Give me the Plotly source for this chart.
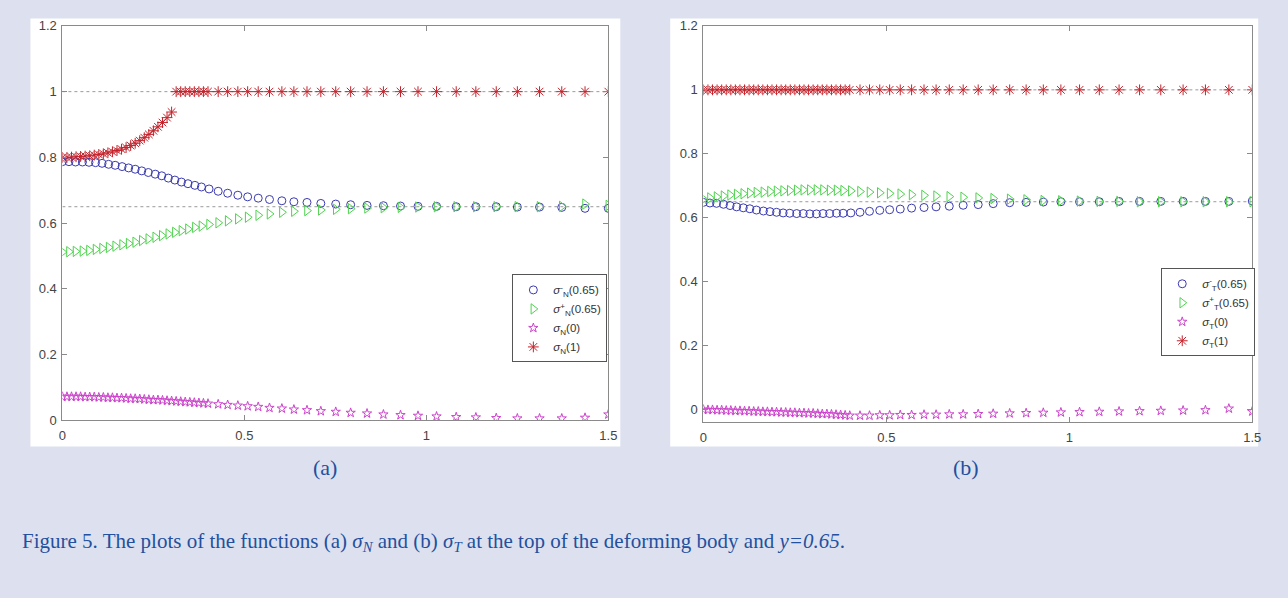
import plotly.graph_objects as go

# ---------------- data ----------------
x_coarse = [0, 0.018, 0.036, 0.055, 0.073, 0.091, 0.109, 0.127, 0.145, 0.164, 0.182, 0.2,
            0.218, 0.236, 0.255, 0.273, 0.291, 0.309, 0.327, 0.345, 0.364, 0.382, 0.403,
            0.428, 0.454, 0.482, 0.509, 0.538, 0.569, 0.603, 0.636, 0.672, 0.710, 0.751,
            0.792, 0.837, 0.882, 0.929, 0.977, 1.028, 1.082, 1.136, 1.192, 1.250, 1.311,
            1.372, 1.436, 1.5]
x_fine = [0, 0.0125, 0.025, 0.0375, 0.05, 0.0625, 0.075, 0.0875, 0.1, 0.1125, 0.125, 0.1375,
          0.15, 0.1625, 0.175, 0.1875, 0.2, 0.2125, 0.225, 0.2375, 0.25, 0.2625, 0.275, 0.2875,
          0.3, 0.3125, 0.325, 0.3375, 0.35, 0.3625, 0.375, 0.3875, 0.4, 0.428, 0.454, 0.482,
          0.509, 0.538, 0.569, 0.603, 0.636, 0.672, 0.710, 0.751, 0.792, 0.837, 0.882, 0.929,
          0.977, 1.028, 1.082, 1.136, 1.192, 1.250, 1.311, 1.372, 1.436, 1.5]

# panel (a): sigma_N
sN_minus = [0.787, 0.787, 0.786, 0.786, 0.785, 0.784, 0.782, 0.779, 0.776, 0.772, 0.768, 0.764,
            0.759, 0.754, 0.749, 0.744, 0.737, 0.731, 0.725, 0.720, 0.715, 0.710, 0.704,
            0.697, 0.691, 0.685, 0.680, 0.676, 0.672, 0.668, 0.665, 0.663, 0.660, 0.658,
            0.656, 0.654, 0.653, 0.652, 0.651, 0.651, 0.650, 0.650, 0.650, 0.649, 0.649,
            0.648, 0.645, 0.645]
sN_plus = [0.512, 0.513, 0.514, 0.515, 0.517, 0.520, 0.523, 0.526, 0.530, 0.534, 0.538, 0.542,
           0.547, 0.552, 0.557, 0.562, 0.567, 0.572, 0.577, 0.582, 0.587, 0.591, 0.596,
           0.601, 0.607, 0.613, 0.618, 0.624, 0.628, 0.633, 0.636, 0.638, 0.640, 0.642,
           0.644, 0.646, 0.647, 0.648, 0.649, 0.650, 0.650, 0.650, 0.650, 0.650, 0.650,
           0.651, 0.658, 0.654]
sN_0 = [0.072, 0.072, 0.072, 0.072, 0.072, 0.071, 0.071, 0.071, 0.070, 0.070, 0.069, 0.069,
        0.068, 0.068, 0.067, 0.066, 0.066, 0.065, 0.064, 0.063, 0.062, 0.062, 0.061, 0.060,
        0.059, 0.058, 0.057, 0.056, 0.055, 0.054, 0.053, 0.052, 0.051, 0.049, 0.047, 0.045,
        0.043, 0.041, 0.038, 0.036, 0.033, 0.031, 0.028, 0.026, 0.023, 0.021, 0.018, 0.016,
        0.014, 0.012, 0.010, 0.009, 0.007, 0.006, 0.006, 0.006, 0.008, 0.018]
sN_1 = [0.800, 0.800, 0.801, 0.802, 0.803, 0.804, 0.805, 0.807, 0.809, 0.811, 0.814, 0.817,
        0.821, 0.825, 0.830, 0.836, 0.843, 0.851, 0.860, 0.870, 0.881, 0.893, 0.906, 0.921,
        0.938, 1, 1, 1, 1, 1, 1, 1, 1, 1, 1, 1, 1, 1, 1, 1, 1, 1, 1, 1, 1, 1, 1, 1, 1, 1,
        1, 1, 1, 1, 1, 1, 1, 1]

# panel (b): sigma_T
sT_minus = [0.648, 0.646, 0.645, 0.642, 0.638, 0.634, 0.631, 0.628, 0.624, 0.621, 0.619, 0.617,
            0.615, 0.614, 0.613, 0.613, 0.612, 0.612, 0.613, 0.613, 0.614, 0.614, 0.615,
            0.617, 0.620, 0.623, 0.625, 0.627, 0.630, 0.632, 0.634, 0.636, 0.639, 0.641,
            0.644, 0.647, 0.648, 0.649, 0.650, 0.650, 0.650, 0.651, 0.651, 0.651, 0.651,
            0.651, 0.651, 0.652]
sT_plus = [0.658, 0.662, 0.665, 0.668, 0.671, 0.673, 0.675, 0.677, 0.679, 0.680, 0.682, 0.683,
           0.684, 0.685, 0.686, 0.687, 0.687, 0.687, 0.687, 0.686, 0.686, 0.685, 0.684,
           0.682, 0.680, 0.678, 0.676, 0.674, 0.672, 0.670, 0.668, 0.666, 0.664, 0.662,
           0.660, 0.658, 0.656, 0.654, 0.653, 0.652, 0.651, 0.651, 0.650, 0.650, 0.650,
           0.650, 0.650, 0.650]
sT_0 = [0.000, -0.001, -0.001, -0.002, -0.002, -0.003, -0.003, -0.004, -0.004, -0.005, -0.005,
        -0.006, -0.006, -0.007, -0.007, -0.008, -0.008, -0.009, -0.009, -0.010, -0.010, -0.011,
        -0.011, -0.012, -0.012, -0.013, -0.014, -0.014, -0.015, -0.016, -0.017, -0.018, -0.019,
        -0.019, -0.019, -0.018, -0.018, -0.017, -0.017, -0.016, -0.016, -0.015, -0.015, -0.014,
        -0.013, -0.012, -0.011, -0.010, -0.009, -0.008, -0.007, -0.006, -0.005, -0.004, -0.003,
        -0.002, 0.003, -0.006]
sT_1 = [1, 1, 1, 1, 1, 1, 1, 1, 1, 1, 1, 1, 1, 1, 1, 1, 1, 1, 1, 1, 1, 1, 1, 1, 1, 1,
        1, 1, 1, 1, 1, 1, 1, 1, 1, 1, 1, 1, 1, 1, 1, 1, 1, 1, 1, 1, 1, 1, 1, 1, 1, 1,
        1, 1, 1, 1, 1, 1]

ref_levels = [1, 0.65]
x_range = [0, 1.5]
y_range_a = [0, 1.2]
y_range_b = [-0.04, 1.2]
x_ticks = [0, 0.5, 1, 1.5]
x_ticklabels = ["0", "0.5", "1", "1.5"]
y_ticks = [0, 0.2, 0.4, 0.6, 0.8, 1, 1.2]
y_ticklabels = ["0", "0.2", "0.4", "0.6", "0.8", "1", "1.2"]

labels_a = ["<i>σ</i><sup>-</sup><sub>N</sub>(0.65)", "<i>σ</i><sup>+</sup><sub>N</sub>(0.65)",
            "<i>σ</i><sub>N</sub>(0)", "<i>σ</i><sub>N</sub>(1)"]
labels_b = ["<i>σ</i><sup>-</sup><sub>T</sub>(0.65)", "<i>σ</i><sup>+</sup><sub>T</sub>(0.65)",
            "<i>σ</i><sub>T</sub>(0)", "<i>σ</i><sub>T</sub>(1)"]

# ---------------- styling ----------------
W, H = 1288, 598
BG = "#dde1ef"
BLUE = "#3b3bb0"
GREEN = "#4fd24f"
MAGENTA = "#cc44cc"
RED = "#c4232c"
AXIS = "#8a8a8a"
CAP = "#23509f"

def px_x(p):
    return p / W

def px_y(p):
    return 1 - p / H

fig = go.Figure()

def add_panel(xa, ya, series, legend_name):
    for lv in ref_levels:
        fig.add_trace(go.Scatter(x=x_range, y=[lv, lv], mode="lines", xaxis=xa, yaxis=ya,
                                 line=dict(color="#9a9a9a", width=1, dash="dot"),
                                 showlegend=False, hoverinfo="skip"))
    for (xs, ys, name, sym, col, size) in series:
        fig.add_trace(go.Scatter(x=xs, y=ys, mode="markers", name=name, xaxis=xa, yaxis=ya,
                                 legend=legend_name,
                                 marker=dict(symbol=sym, size=size, color=col,
                                             line=dict(color=col, width=1))))

add_panel("x", "y", [
    (x_coarse, sN_minus, labels_a[0], "circle-open", BLUE, 8),
    (x_coarse, sN_plus, labels_a[1], "triangle-right-open", GREEN, 9),
    (x_fine, sN_0, labels_a[2], "star-open", MAGENTA, 7),
    (x_fine, sN_1, labels_a[3], "asterisk-open", RED, 9),
], "legend")
add_panel("x2", "y2", [
    (x_coarse, sT_minus, labels_b[0], "circle-open", BLUE, 8),
    (x_coarse, sT_plus, labels_b[1], "triangle-right-open", GREEN, 9),
    (x_fine, sT_0, labels_b[2], "star-open", MAGENTA, 7),
    (x_fine, sT_1, labels_b[3], "asterisk-open", RED, 9),
], "legend2")

axis_common = dict(showline=True, linecolor=AXIS, linewidth=1, mirror="allticks",
                   ticks="inside", ticklen=5, tickcolor=AXIS, showgrid=False, zeroline=False,
                   tickfont=dict(family="Liberation Sans, Arial", size=13, color="#444444"))

legend_common = dict(xanchor="right", yanchor="top", bgcolor="white", bordercolor="#555555",
                     borderwidth=1, font=dict(family="Liberation Sans, Arial", size=11.5, color="#333333"),
                     itemwidth=30, tracegroupgap=2)

cap_font = dict(family="Liberation Serif, Times New Roman", color=CAP)

fig.update_layout(
    width=W, height=H, margin=dict(l=0, r=0, t=0, b=0),
    paper_bgcolor=BG, plot_bgcolor="white",
    xaxis=dict(domain=[px_x(59), px_x(610.5)], range=x_range, tickvals=x_ticks,
               ticktext=x_ticklabels, anchor="y", ticklabelstandoff=3, **axis_common),
    yaxis=dict(domain=[px_y(424), px_y(19.4)], range=y_range_a, tickvals=y_ticks,
               ticktext=y_ticklabels, anchor="x", ticklabelstandoff=2, **axis_common),
    xaxis2=dict(domain=[px_x(706.5), px_x(1261)], range=x_range, tickvals=x_ticks,
                ticktext=x_ticklabels, anchor="y2", ticklabelstandoff=3, **axis_common),
    yaxis2=dict(domain=[px_y(426), px_y(19.4)], range=y_range_b, tickvals=y_ticks,
                ticktext=y_ticklabels, anchor="x2", ticklabelstandoff=2, **axis_common),
    legend=dict(x=px_x(609.5), y=px_y(274.3), **legend_common),
    legend2=dict(x=px_x(1264), y=px_y(268), **legend_common),
    shapes=[
        dict(type="rect", xref="paper", yref="paper", x0=px_x(26.7), x1=px_x(622.6),
             y0=px_y(450.7), y1=px_y(11.7), fillcolor="white", line=dict(width=0), layer="below"),
        dict(type="rect", xref="paper", yref="paper", x0=px_x(673), x1=px_x(1267),
             y0=px_y(450.7), y1=px_y(11.7), fillcolor="white", line=dict(width=0), layer="below"),
    ],
    annotations=[
        dict(text="(a)", x=px_x(324.6), y=px_y(472), xref="paper", yref="paper",
             xanchor="center", yanchor="middle", showarrow=False, font=dict(size=22, **cap_font)),
        dict(text="(b)", x=px_x(972), y=px_y(472), xref="paper", yref="paper",
             xanchor="center", yanchor="middle", showarrow=False, font=dict(size=22, **cap_font)),
        dict(text="Figure 5. The plots of the functions (a) <i>σ<sub>N</sub></i> and (b) "
                  "<i>σ<sub>T</sub></i> at the top of the deforming body and <i>y=0.65</i>.",
             x=px_x(16.6), y=px_y(549), xref="paper", yref="paper", xanchor="left",
             yanchor="middle", showarrow=False, font=dict(size=21, **cap_font)),
    ],
)

fig.write_html("out.html", config={"displayModeBar": False},
               post_script="document.body.style.margin='0';document.body.style.overflow='hidden';"
                           "document.body.style.background='" + BG + "';")
